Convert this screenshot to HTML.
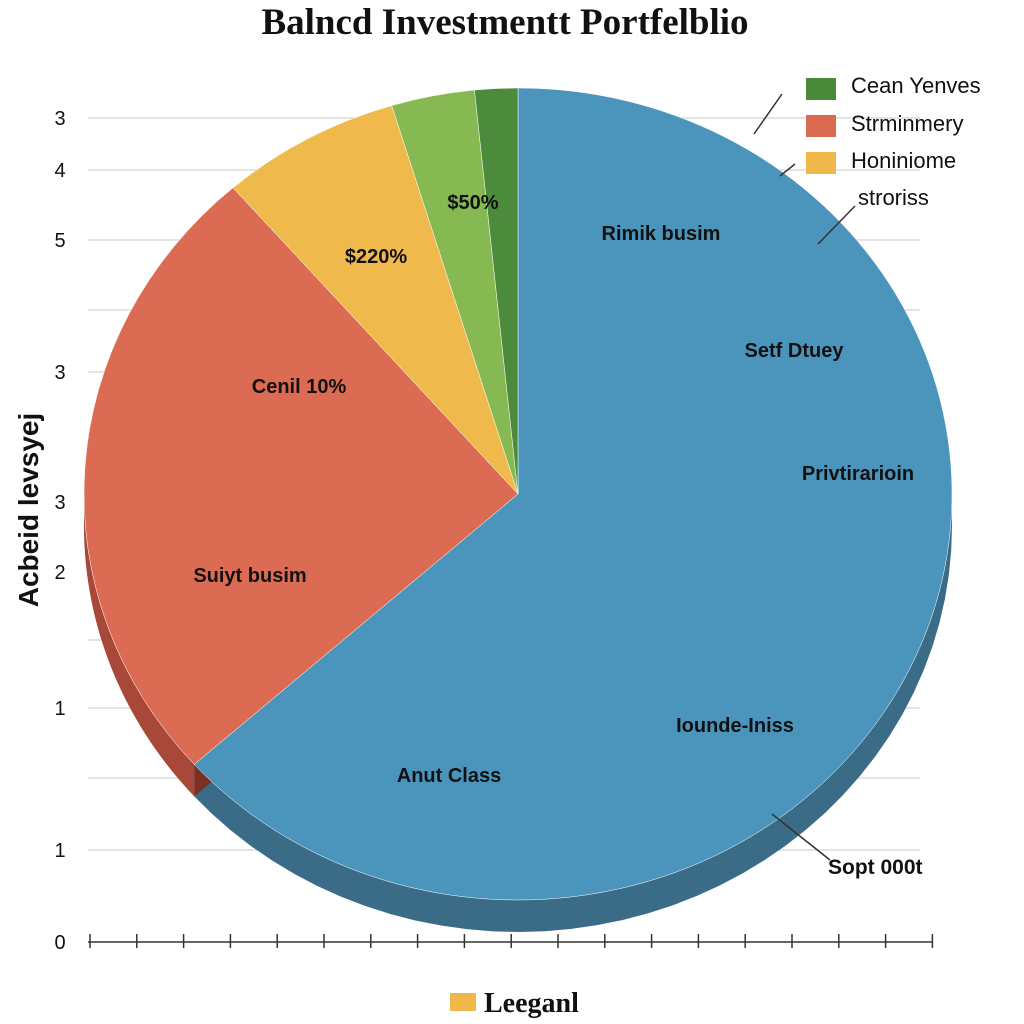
<!DOCTYPE html>
<html><head><meta charset="utf-8"><style>
html,body{margin:0;padding:0;background:#fff;}
svg{display:block;font-family:"Liberation Sans",sans-serif;}
</style></head><body>
<svg id="chart" width="1024" height="1024" viewBox="0 0 1024 1024">
<text x="505" y="34" text-anchor="middle" font-family="Liberation Serif" font-weight="bold" font-size="37" fill="#111">Balncd Investmentt Portfelblio</text>
<g id="grid"></g>
<g id="axis"></g>
<g id="pie"></g>
<g id="labels"></g>
<text x="38" y="510" transform="rotate(-90 38 510)" text-anchor="middle" font-weight="bold" font-size="28" fill="#111">Acbeid levsyej</text>
<g>
<rect x="806" y="78" width="30" height="22" fill="#4a8a3a"/>
<text x="851" y="93" font-size="22" fill="#111">Cean Yenves</text>
<rect x="806" y="115" width="30" height="22" fill="#db6a52"/>
<text x="851" y="131" font-size="22" fill="#111">Strminmery</text>
<rect x="806" y="152" width="30" height="22" fill="#f0b84a"/>
<text x="851" y="168" font-size="22" fill="#111">Honiniome</text>
<text x="858" y="205" font-size="22" fill="#111">stroriss</text>
<line x1="754" y1="134" x2="782" y2="94" stroke="#333" stroke-width="1.5"/>
<line x1="780" y1="176" x2="795" y2="164" stroke="#333" stroke-width="1.5"/>
<line x1="818" y1="244" x2="855" y2="206" stroke="#333" stroke-width="1.5"/>
<line x1="772" y1="814" x2="830" y2="860" stroke="#333" stroke-width="1.5"/>
</g>
<text x="828" y="874" font-size="21" font-weight="bold" fill="#111">Sopt 000t</text>
<g>
<rect x="450" y="993" width="26" height="18" fill="#f0b84a"/>
<text x="484" y="1012" font-family="Liberation Serif" font-weight="bold" font-size="28" fill="#111">Leeganl</text>
</g>
</svg>
<script>
const categories=["Blue","Red","Yellow","LightGreen","DarkGreen"];
const values=[63.4,25.2,6.7,3.1,1.6];
const colors=["#4b95bd","#dc6b53","#f0b94b","#87b952","#4b8b3b"];
const sideColors=["#3a6c88","#a84838","#c08a30","#5f8a38","#335f2a"];
const yTickLabels=["3","4","5","3","3","2","1","1","0"];
const yTickPos=[118,170,240,372,502,572,708,850,942];
const extraGrid=[310,435,640,778];
const sliceTexts=[["Rimik busim",661,240],["Setf Dtuey",794,357],["Privtirarioin",858,480],["Iounde-Iniss",735,732],["Anut Class",449,782],["Suiyt busim",250,582],["Cenil 10%",299,393],["$220%",376,263],["$50%",473,209]];
const NS="http://www.w3.org/2000/svg";
function mk(t,a,p){const e=document.createElementNS(NS,t);for(const k in a)e.setAttribute(k,a[k]);p.appendChild(e);return e;}
const grid=document.getElementById('grid'),axis=document.getElementById('axis'),pie=document.getElementById('pie'),lab=document.getElementById('labels');
yTickPos.concat(extraGrid).forEach((y,i)=>{const l=mk('line',{x1:88,x2:920,y1:y,y2:y,stroke:'#c8c8c8','stroke-width':1},grid);

});
yTickLabels.forEach((t,i)=>{const e=mk('text',{x:60,y:yTickPos[i]+7,'text-anchor':'middle','font-size':20,fill:'#111'},axis);e.textContent=t;

});
mk('line',{x1:88,x2:932,y1:942,y2:942,stroke:'#333','stroke-width':1.5},axis);
for(let i=0;i<19;i++){const t=mk('line',{x1:90+i*46.8,x2:90+i*46.8,y1:934,y2:948,stroke:'#333','stroke-width':1.5},axis);

}
const cx=518,cy=494,rx=434,ry=406,depth=32;
const total=values.reduce((a,b)=>a+b,0);
function pt(a,dy){return [cx+rx*Math.sin(a),cy-ry*Math.cos(a)+(dy||0)];}
let a0=0;const angs=[];
values.forEach(v=>{const a1=a0+v/total*2*Math.PI;angs.push([a0,a1]);a0=a1;});
angs.forEach(([s,e],i)=>{
 const lo=Math.max(s,Math.PI/2),hi=Math.min(e,3*Math.PI/2);
 if(hi>lo){let d='';const n=40;const pts=[];
  for(let k=0;k<=n;k++){pts.push(pt(lo+(hi-lo)*k/n));}
  d='M'+pts.map(p=>p.join(',')).join('L');
  for(let k=n;k>=0;k--){const p=pts[k];d+='L'+p[0]+','+(p[1]+depth);}
  const w=mk('path',{d:d+'Z',fill:sideColors[i]},pie);
  
  }
});
const b=pt(angs[0][1]);
mk('path',{d:`M${cx},${cy}L${b[0]},${b[1]}L${b[0]},${b[1]+depth}L${cx},${cy+depth}Z`,fill:'#7a3024'},pie);
angs.forEach(([s,e],i)=>{const p0=pt(s),p1=pt(e);const large=(e-s)>Math.PI?1:0;
 const p=mk('path',{d:`M${cx},${cy}L${p0[0]},${p0[1]}A${rx},${ry} 0 ${large} 1 ${p1[0]},${p1[1]}Z`,fill:colors[i],stroke:'#fff','stroke-width':0.5},pie);
 
 });
sliceTexts.forEach(([t,x,y])=>{const e=mk('text',{x:x,y:y,'text-anchor':'middle','font-size':20,'font-weight':'bold',fill:'#111'},lab);e.textContent=t;

});
</script>
</body></html>
